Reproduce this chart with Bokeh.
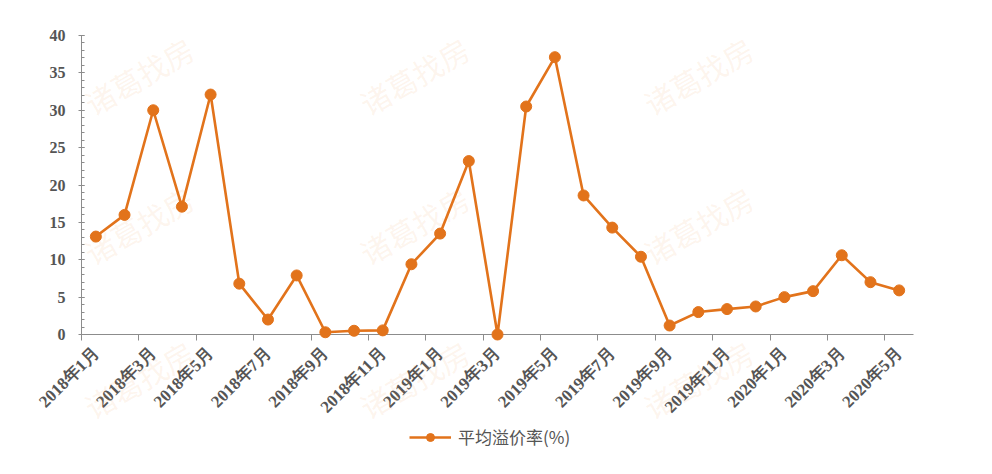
import math
from bokeh.plotting import figure
from bokeh.layouts import column
from bokeh.models import (Range1d, FixedTicker, SingleIntervalTicker, LinearAxis,
                          CustomJSTickFormatter, Legend, LegendItem)
from bokeh.core.properties import value
from bokeh.embed import file_html
from bokeh.resources import INLINE

# ---------------- data ----------------
months = [
    "2018年1月", "2018年2月", "2018年3月", "2018年4月", "2018年5月", "2018年6月",
    "2018年7月", "2018年8月", "2018年9月", "2018年10月", "2018年11月", "2018年12月",
    "2019年1月", "2019年2月", "2019年3月", "2019年4月", "2019年5月", "2019年6月",
    "2019年7月", "2019年8月", "2019年9月", "2019年10月", "2019年11月", "2019年12月",
    "2020年1月", "2020年2月", "2020年3月", "2020年4月", "2020年5月",
]
premium = [13.1, 16.0, 30.0, 17.1, 32.1, 6.8, 2.0, 7.9, 0.3, 0.5, 0.55, 9.4,
           13.5, 23.2, 0.0, 30.5, 37.1, 18.6, 14.3, 10.4, 1.2, 3.0, 3.4, 3.75,
           5.0, 5.8, 10.6, 7.0, 5.9]
series_name = "平均溢价率(%)"
tick_labels = months[::2]

# ---------------- style ----------------
LINE = "#E2731B"
AXIS = "#8c8c8c"
TXT = "#555555"
WM = "诸葛找房"

n = len(months)
xs = [i + 0.5 for i in range(n)]

p = figure(width=976, height=426, output_backend="svg", toolbar_location=None,
           x_range=Range1d(0, n), y_range=Range1d(0, 40),
           x_axis_location=None, y_axis_location=None,
           min_border_left=81, min_border_right=63, min_border_top=35,
           min_border_bottom=92)
p.outline_line_color = None
p.xgrid.visible = False
p.ygrid.visible = False
p.background_fill_color = "white"
p.border_fill_color = "white"

# faint tiled watermark (drawn first so the series sits on top)
wm_x = [2.0, 11.6, 21.5] * 3
wm_y = [34.6] * 3 + [14.6] * 3 + [-6.0] * 3
p.text(x=wm_x, y=wm_y, text=[WM] * len(wm_x), angle=math.radians(30),
       text_align="center", text_baseline="middle",
       text_font=value("Noto Sans CJK SC"), text_font_size="30px",
       text_color="#F39A4A", text_alpha=0.10, level="overlay")

# y axis
yax = LinearAxis(ticker=SingleIntervalTicker(interval=5, num_minor_ticks=5))
yax.axis_line_color = AXIS
yax.major_tick_line_color = AXIS
yax.minor_tick_line_color = AXIS
yax.major_tick_in = 3
yax.major_tick_out = 3
yax.minor_tick_in = 3
yax.minor_tick_out = 0
yax.major_label_standoff = 13
yax.major_label_text_font = "Liberation Serif"
yax.major_label_text_font_style = "bold"
yax.major_label_text_font_size = "16px"
yax.major_label_text_color = TXT
p.add_layout(yax, "left")

# x axis: tick marks at category boundaries
xax_ticks = LinearAxis(ticker=FixedTicker(ticks=list(range(0, n, 2))),
                       formatter=CustomJSTickFormatter(code="return ''"))
xax_ticks.axis_line_color = AXIS
xax_ticks.major_tick_line_color = AXIS
xax_ticks.major_tick_in = 0
xax_ticks.major_tick_out = 6
xax_ticks.minor_tick_line_color = None
xax_ticks.major_label_standoff = 0
xax_ticks.major_label_text_font_size = "0px"
p.add_layout(xax_ticks, "below")

# x axis: labels at category centres
xax_lab = LinearAxis(ticker=FixedTicker(ticks=xs[::2]),
                     formatter=CustomJSTickFormatter(args=dict(labels=tick_labels),
                                                     code="return labels[Math.round((tick - 0.5) / 2)]"))
xax_lab.axis_line_color = None
xax_lab.major_tick_line_color = None
xax_lab.minor_tick_line_color = None
xax_lab.major_tick_in = 0
xax_lab.major_tick_out = 0
xax_lab.major_label_standoff = 10
xax_lab.major_label_orientation = math.pi / 4
xax_lab.major_label_text_font = "Liberation Serif"
xax_lab.major_label_text_font_style = "bold"
xax_lab.major_label_text_font_size = "17px"
xax_lab.major_label_text_color = TXT
p.add_layout(xax_lab, "below")

ln = p.line(xs, premium, line_color=LINE, line_width=2.6, level="overlay")
sc = p.scatter(xs, premium, size=11, fill_color=LINE, line_color=LINE, level="overlay")

# legend strip below the chart (keys styled like the series)
nan = float("nan")
pl = figure(width=976, height=32, output_backend="svg", toolbar_location=None,
            x_range=Range1d(0, 1), y_range=Range1d(0, 1),
            x_axis_location=None, y_axis_location=None, min_border=0)
pl.outline_line_color = None
pl.xgrid.visible = False
pl.ygrid.visible = False
lk = pl.line(x=[nan, nan], y=[nan, nan], line_color=LINE, line_width=2.6)
sk = pl.scatter(x=[nan], y=[nan], size=11, fill_color=LINE, line_color=LINE)
legend = Legend(items=[LegendItem(label=series_name, renderers=[lk, sk])],
                location=(328, 9), orientation="horizontal",
                glyph_width=42, glyph_height=20, label_height=20, label_standoff=7,
                label_text_font="Noto Sans CJK SC", label_text_font_size="17px",
                label_text_color=TXT, border_line_color=None,
                background_fill_alpha=0, padding=2, margin=0)
pl.add_layout(legend, "center")

open("out.html", "w").write(file_html(column(p, pl, spacing=0), INLINE))
